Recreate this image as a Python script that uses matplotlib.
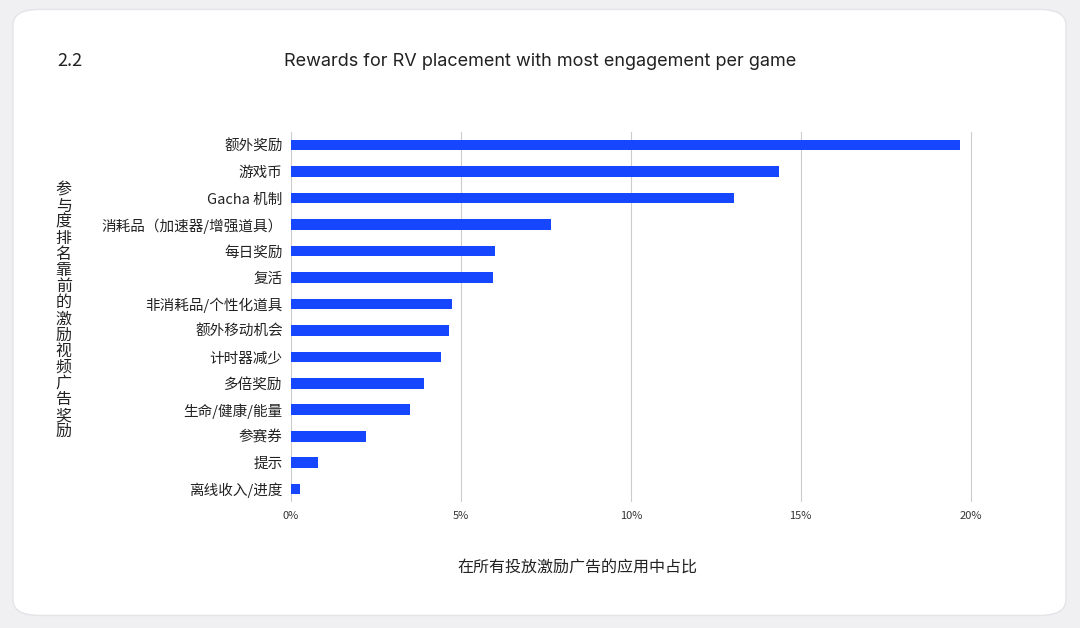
import matplotlib
matplotlib.use("Agg")
import matplotlib.pyplot as plt
from matplotlib.patches import FancyBboxPatch

plt.rcParams["font.family"] = ["Noto Sans CJK SC"]

categories = ["额外奖励", "游戏币", "Gacha 机制", "消耗品（加速器/增强道具）", "每日奖励", "复活",
              "非消耗品/个性化道具", "额外移动机会", "计时器减少", "多倍奖励", "生命/健康/能量",
              "参赛券", "提示", "离线收入/进度"]
values = [19.7, 14.35, 13.05, 7.65, 6.0, 5.95, 4.75, 4.65, 4.4, 3.9, 3.5, 2.2, 0.8, 0.25]
ticks = [0, 5, 10, 15, 20]
tick_labels = ["0%", "5%", "10%", "15%", "20%"]

fig = plt.figure(figsize=(10.8, 6.28), dpi=100)
fig.patch.set_facecolor("#f0f0f2")
card = FancyBboxPatch((0.012, 0.02), 0.975, 0.965, boxstyle="round,pad=0,rounding_size=0.025",
                      transform=fig.transFigure, facecolor="white", edgecolor="#e4e4e8", zorder=-5)
fig.patches.append(card)

ax = fig.add_axes([0.2695, 0.2, 0.648, 0.59])
ax.set_zorder(5)
ax.set_facecolor("none")
y = list(range(len(categories)))
ax.barh(y, values, height=0.4, color="#1746ff", zorder=3)
ax.set_yticks(y)
ax.set_yticklabels(categories, fontsize=10.5, color="#222")
ax.set_ylim(len(categories) - 0.5, -0.5)
ax.set_xlim(0, 20.6)
ax.set_xticks(ticks)
ax.set_xticklabels(tick_labels, fontsize=8, color="#333")
ax.grid(axis="x", color="#cccccc", linewidth=0.8, zorder=0)
for s in ax.spines.values():
    s.set_visible(False)
ax.tick_params(length=0, pad=6)

fig.text(0.053, 0.895, "2.2", fontsize=13, color="#222", zorder=6)
fig.text(0.5, 0.895, "Rewards for RV placement with most engagement per game", fontsize=13,
         color="#222", ha="center", fontfamily="Inter", zorder=6)
fig.text(0.535, 0.088, "在所有投放激励广告的应用中占比", fontsize=11.5, ha="center", color="#222", zorder=6)
fig.text(0.059, 0.505, "\n".join("参与度排名靠前的激励视频广告奖励"), fontsize=11.5, ha="center",
         va="center", color="#222", linespacing=0.93, zorder=6)

fig.savefig("out.png", dpi=100)
